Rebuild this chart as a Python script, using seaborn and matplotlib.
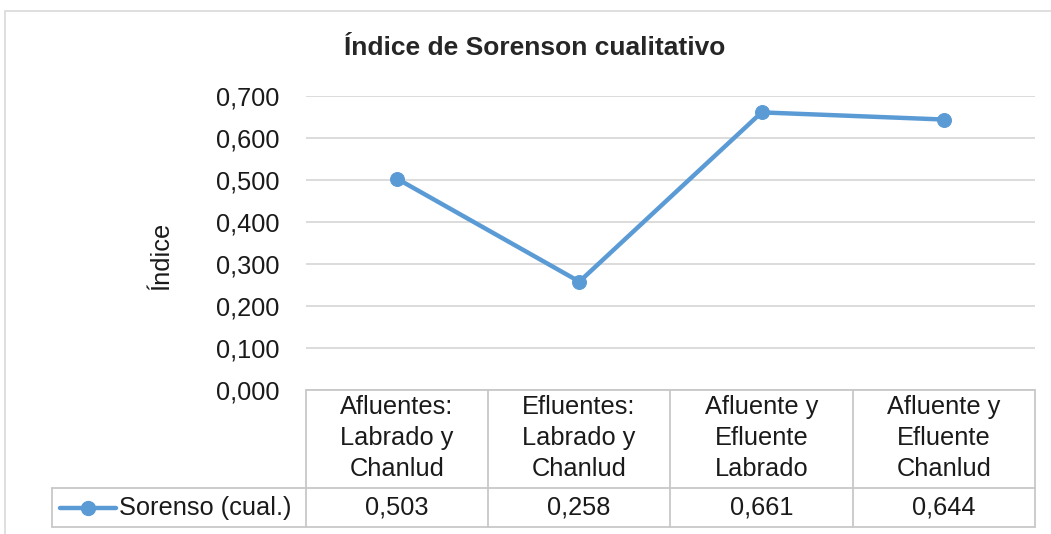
import matplotlib
matplotlib.use("Agg")
import matplotlib.pyplot as plt
import seaborn as sns
import pandas as pd
from matplotlib.patches import Rectangle
from matplotlib.lines import Line2D

categories = ["Afluentes:\nLabrado y\nChanlud", "Efluentes:\nLabrado y\nChanlud",
              "Afluente y\nEfluente\nLabrado", "Afluente y\nEfluente\nChanlud"]
values = [0.503, 0.258, 0.661, 0.644]
series_name = "Sorenso (cual.)"
title = "Índice de Sorenson cualitativo"
ylabel = "Índice"
yticks = [0.0, 0.1, 0.2, 0.3, 0.4, 0.5, 0.6, 0.7]

sns.set_style("white")
plt.rcParams['font.family'] = ['Liberation Sans', 'DejaVu Sans']

W, H = 1051, 534
fig = plt.figure(figsize=(W / 100, H / 100), dpi=100)

def fx(px):
    return px / W

def fy(py):
    return 1 - py / H

FS = 18.3

# outer chart border
fig.patches.append(Rectangle((fx(5), fy(600)), fx(1100), fy(11) - fy(600),
                             transform=fig.transFigure, fill=False,
                             edgecolor="#D9D9D9", linewidth=1.2))

left, right, top, bottom = 306, 1035, 96, 390
ax = fig.add_axes([fx(left), fy(bottom), fx(right) - fx(left), fy(top) - fy(bottom)])

color = "#5B9BD5"
df = pd.DataFrame({"x": list(range(len(categories))), "y": values})
sns.lineplot(data=df, x="x", y="y", ax=ax, color=color, linewidth=3.2,
             marker="o", markersize=10, markeredgecolor=color, markerfacecolor=color)

ax.set_xlim(-0.5, len(categories) - 0.5)
ax.set_ylim(0, 0.7)
ax.set_yticks(yticks)
ax.set_yticklabels([f"{v:.3f}".replace(".", ",") for v in yticks], fontsize=FS, color="#1a1a1a")
ax.tick_params(axis="y", length=0, pad=19)
ax.set_xticks([])
ax.set_xlabel("")
ax.yaxis.grid(True, color="#D9D9D9", linewidth=1.3)
ax.set_axisbelow(True)
for s in ax.spines.values():
    s.set_visible(False)

ax.set_ylabel(ylabel, fontsize=FS, color="#1a1a1a")
ax.yaxis.set_label_coords((161 - left) / (right - left), (bottom - 256) / (bottom - top))
ax.yaxis.label.set_va("center")

fig.text(fx(535), fy(48), title, ha="center", va="center", fontsize=19, fontweight="bold")

# data table
lc = "#C8C8C8"
lw = 1.3
cols = [306, 488, 670, 853, 1035]
def hline(y, x0, x1):
    fig.add_artist(Line2D([fx(x0), fx(x1)], [fy(y), fy(y)], transform=fig.transFigure, color=lc, lw=lw))
def vline(x, y0, y1):
    fig.add_artist(Line2D([fx(x), fx(x)], [fy(y0), fy(y1)], transform=fig.transFigure, color=lc, lw=lw))

hline(390, 306, 1035)
hline(488, 52, 1035)
hline(527, 52, 1035)
vline(52, 488, 527)
for c in cols:
    vline(c, 390, 527)

for i, (cat, v) in enumerate(zip(categories, values)):
    cx = (cols[i] + cols[i + 1]) / 2
    fig.text(fx(cx), fy(438), cat, ha="center", va="center", fontsize=FS,
             linespacing=1.38, color="#1a1a1a")
    fig.text(fx(cx), fy(508), f"{v:.3f}".replace(".", ","), ha="center", va="center",
             fontsize=FS, color="#1a1a1a")

# legend key in table
fig.add_artist(Line2D([fx(60), fx(116)], [fy(508), fy(508)], transform=fig.transFigure,
                      color=color, lw=3.2))
fig.add_artist(Line2D([fx(88)], [fy(508)], transform=fig.transFigure, color=color,
                      marker="o", markersize=10, lw=0))
fig.text(fx(119), fy(508), series_name, ha="left", va="center", fontsize=FS, color="#1a1a1a")

fig.savefig("out.png", dpi=100)
